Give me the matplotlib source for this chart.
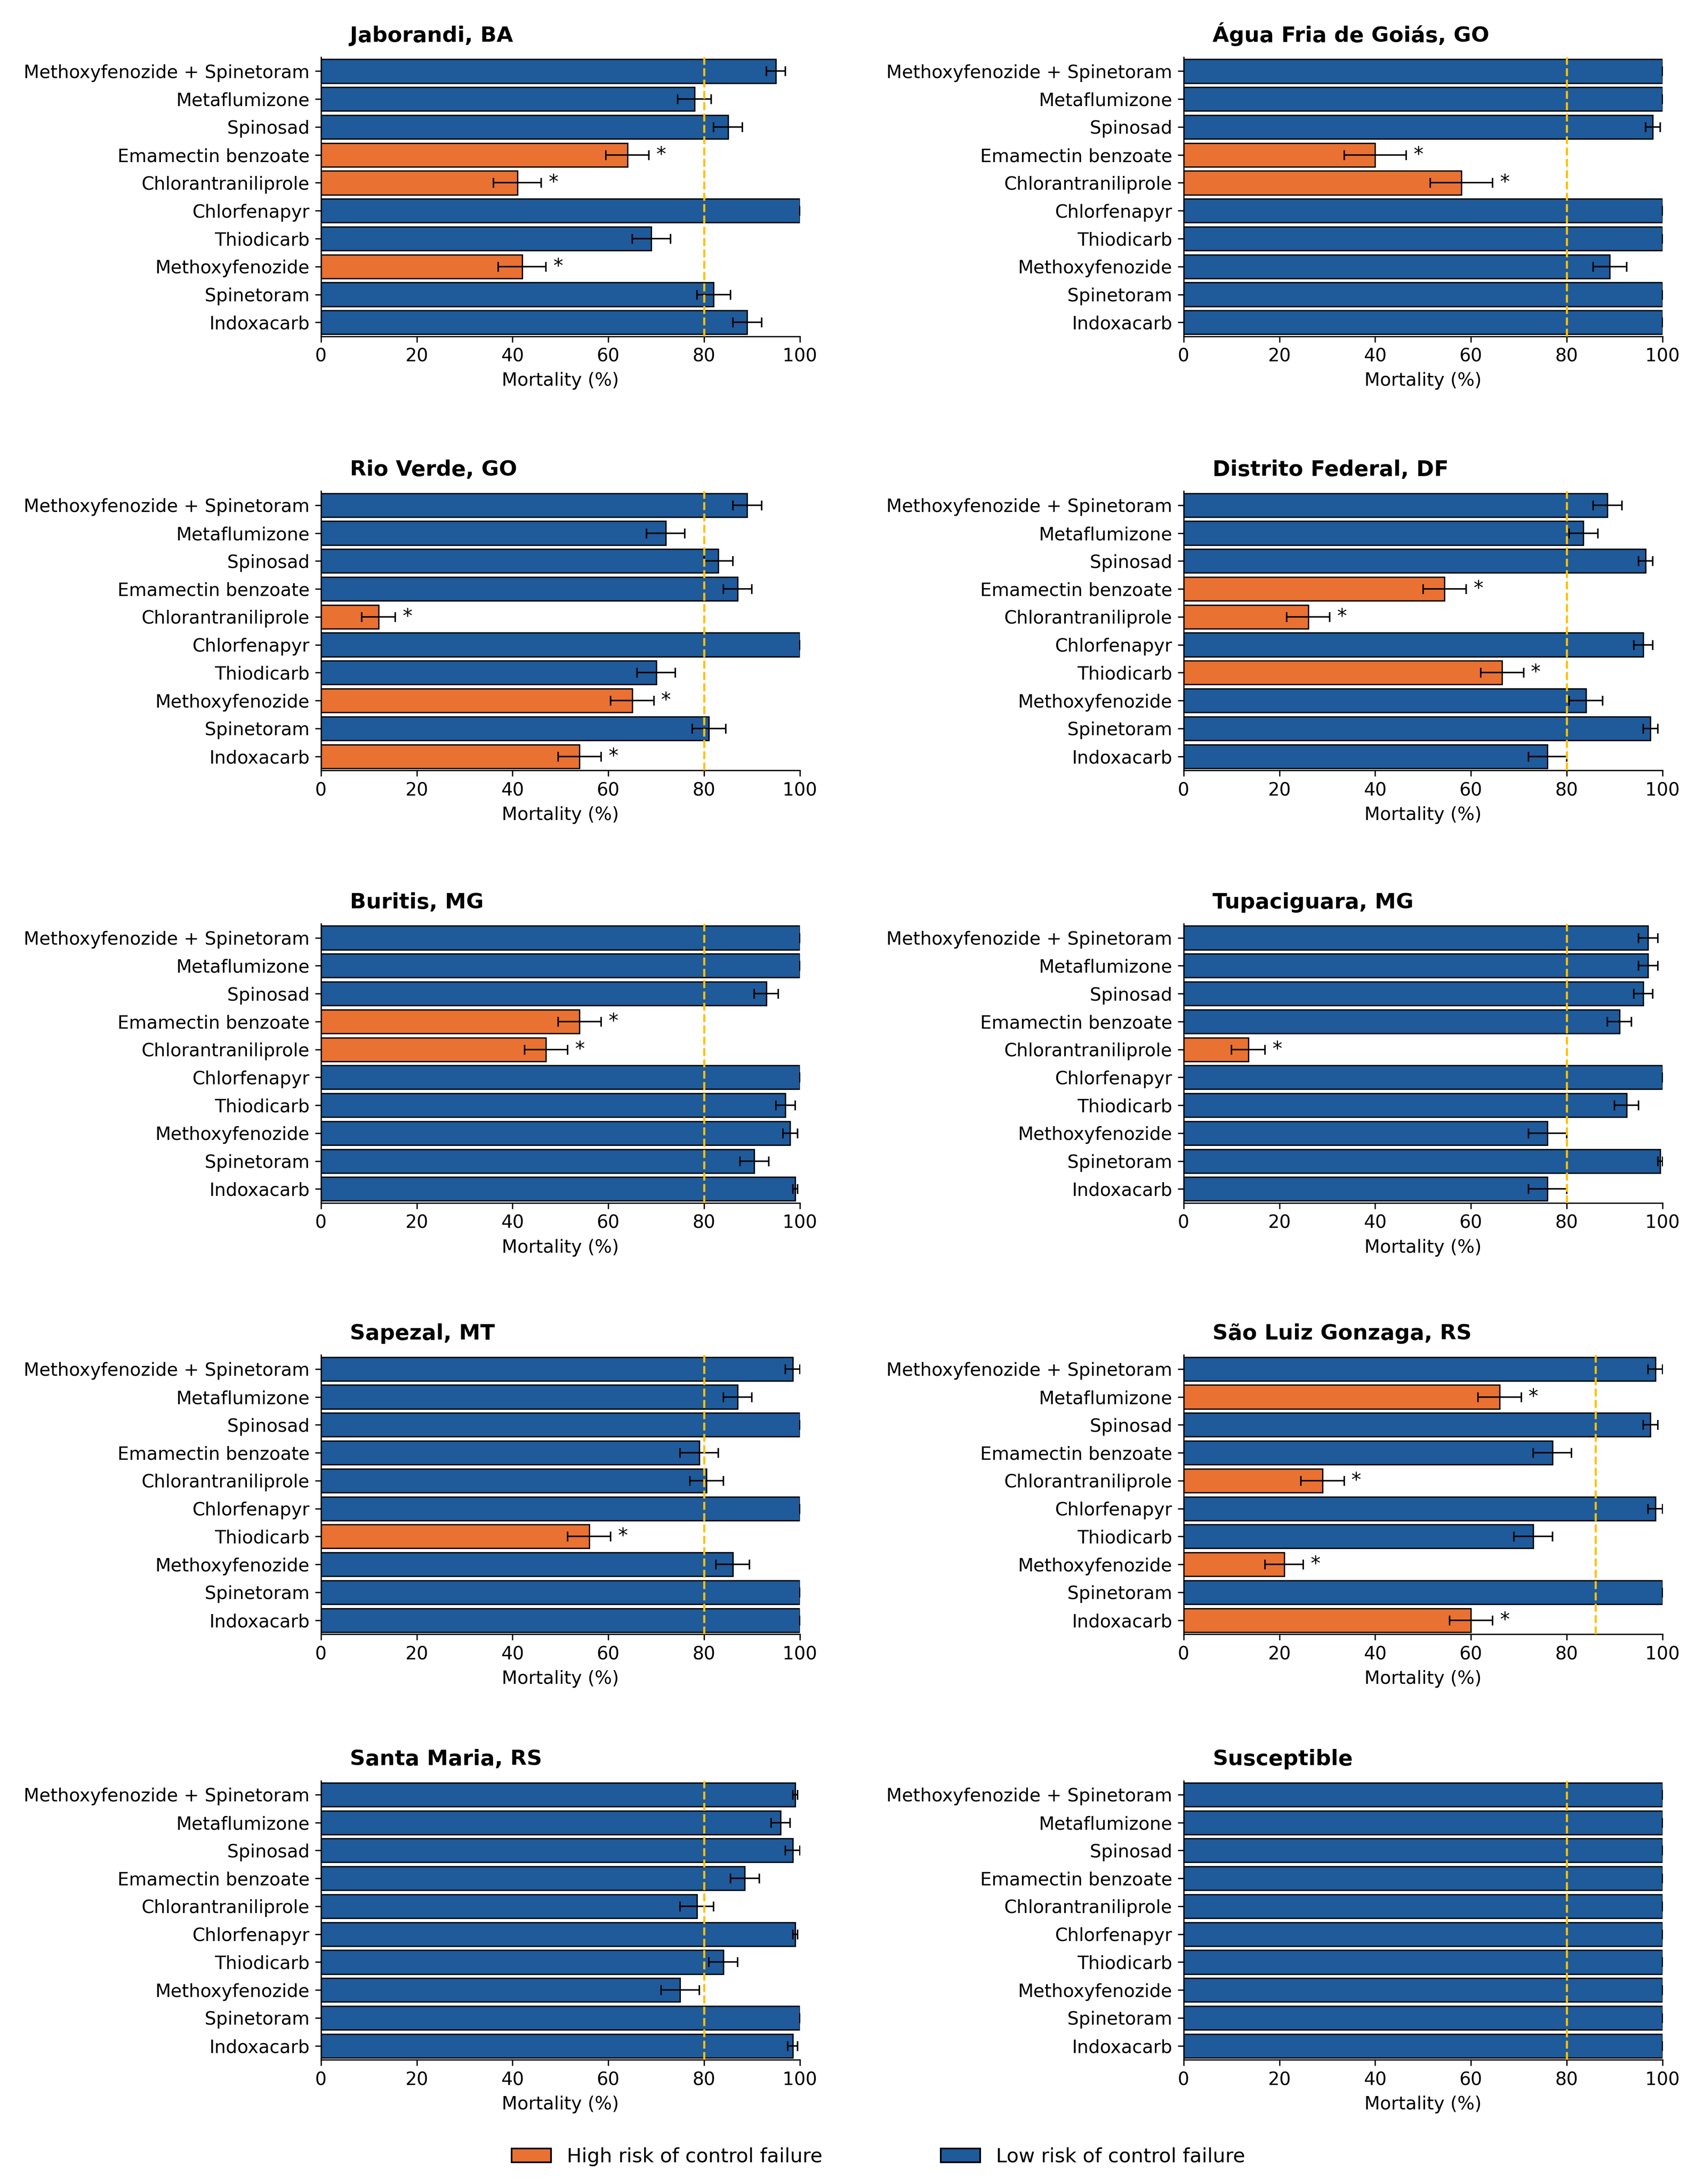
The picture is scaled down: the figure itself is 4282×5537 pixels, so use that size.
import numpy as np
import matplotlib.pyplot as plt
from matplotlib.patches import Patch

insecticides = ["Methoxyfenozide + Spinetoram", "Metaflumizone", "Spinosad",
                "Emamectin benzoate", "Chlorantraniliprole", "Chlorfenapyr",
                "Thiodicarb", "Methoxyfenozide", "Spinetoram", "Indoxacarb"]

sites = ["Jaborandi, BA", "Água Fria de Goiás, GO", "Rio Verde, GO",
         "Distrito Federal, DF", "Buritis, MG", "Tupaciguara, MG",
         "Sapezal, MT", "São Luiz Gonzaga, RS", "Santa Maria, RS", "Susceptible"]

mortality = [
    [95, 78, 85, 64, 41, 100, 69, 42, 82, 89],
    [100, 100, 98, 40, 58, 100, 100, 89, 100, 100],
    [89, 72, 83, 87, 12, 100, 70, 65, 81, 54],
    [88.5, 83.5, 96.5, 54.5, 26, 96, 66.5, 84, 97.5, 76],
    [100, 100, 93, 54, 47, 100, 97, 98, 90.5, 99],
    [97, 97, 96, 91, 13.5, 100, 92.5, 76, 99.5, 76],
    [98.5, 87, 100, 79, 80.5, 100, 56, 86, 100, 100],
    [98.5, 66, 97.5, 77, 29, 98.5, 73, 21, 100, 60],
    [99, 96, 98.5, 88.5, 78.5, 99, 84, 75, 100, 98.5],
    [100] * 10,
]
sem = [
    [2, 3.5, 3, 4.5, 5, 0, 4, 5, 3.5, 3],
    [0, 0, 1.5, 6.5, 6.5, 0, 0, 3.5, 0, 0],
    [3, 4, 3, 3, 3.5, 0, 4, 4.5, 3.5, 4.5],
    [3, 3, 1.5, 4.5, 4.5, 2, 4.5, 3.5, 1.5, 4],
    [0, 0, 2.5, 4.5, 4.5, 0, 2, 1.5, 3, 0.5],
    [2, 2, 2, 2.5, 3.5, 0, 2.5, 4, 0.5, 4],
    [1.5, 3, 0, 4, 3.5, 0, 4.5, 3.5, 0, 0],
    [1.5, 4.5, 1.5, 4, 4.5, 1.5, 4, 4, 0, 4.5],
    [0.5, 2, 1.5, 3, 3.5, 0.5, 3, 4, 0, 1],
    [0] * 10,
]
high_risk = [
    [3, 4, 7], [3, 4], [4, 7, 9], [3, 4, 6], [3, 4],
    [4], [6], [1, 4, 7, 9], [], [],
]
threshold = [80, 80, 80, 80, 80, 80, 80, 86, 80, 80]

blue = "#1F5A9A"
orange = "#E97132"

plt.rcParams['font.family'] = ['DejaVu Sans']
fig = plt.figure(figsize=(4282 / 300, 5537 / 300), dpi=300)

W, H = 1210, 1565
tops = [41, 352, 662, 971, 1276]
lefts = [230, 848]
y = np.arange(len(insecticides))

for i, site in enumerate(sites):
    r, c = divmod(i, 2)
    ax = fig.add_axes([lefts[c] / W, 1 - (tops[r] + 200) / H, 343 / W, 200 / H])
    cols = [orange if k in high_risk[i] else blue for k in range(10)]
    ax.barh(y, mortality[i], height=0.85, color=cols, edgecolor="black", linewidth=0.8)
    ax.errorbar(mortality[i], y, xerr=sem[i], fmt="none", ecolor="black",
                elinewidth=0.9, capsize=3, capthick=0.9)
    for k in high_risk[i]:
        ax.text(mortality[i][k] + sem[i][k] + 1.5, y[k], "*", fontsize=12,
                va="center", ha="left")
    ax.axvline(threshold[i], color="#FFC000", ls="--", lw=1.3, zorder=3)
    ax.set_xlim(0, 100)
    ax.set_ylim(9.5, -0.5)
    ax.set_yticks(y)
    ax.set_yticklabels(insecticides, fontsize=11)
    ax.set_xticks(range(0, 101, 20))
    ax.tick_params(axis="x", labelsize=11)
    ax.set_xlabel("Mortality (%)", fontsize=11)
    for s in ["top", "right"]:
        ax.spines[s].set_visible(False)
    ax.text(0.06, 1.04, site, transform=ax.transAxes, fontsize=13,
            fontweight="bold", ha="left", va="bottom")

fig.legend(handles=[Patch(facecolor=orange, edgecolor="black", label="High risk of control failure"),
                    Patch(facecolor=blue, edgecolor="black", label="Low risk of control failure")],
           loc="lower center", bbox_to_anchor=(0.52, 0.0), ncol=2, frameon=False,
           fontsize=12, columnspacing=6)

fig.savefig("out.png", dpi=300)
